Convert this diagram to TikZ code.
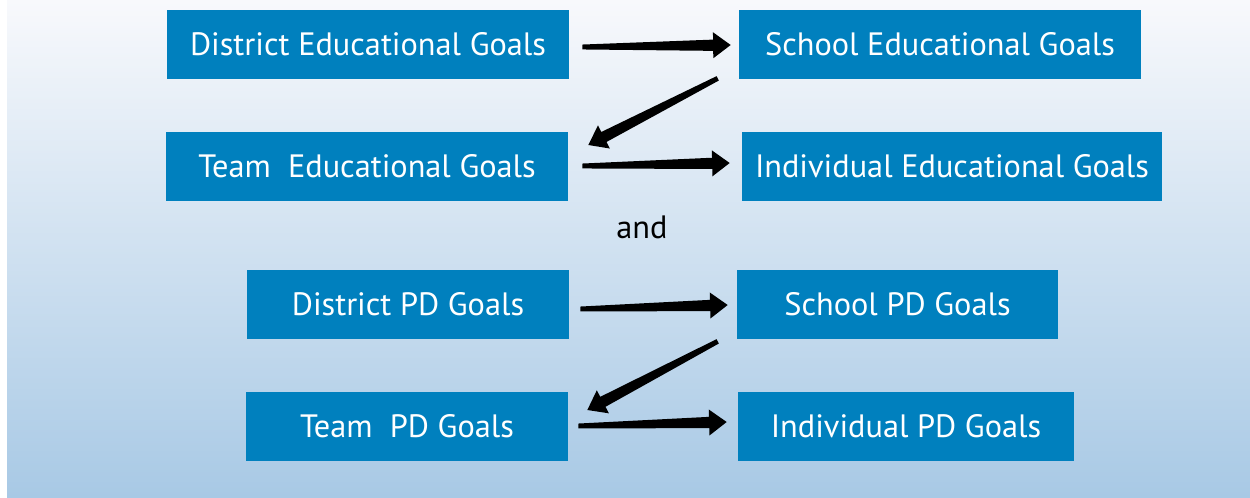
\documentclass[tikz,border=0pt]{standalone}
\usepackage{fontspec}
\setmainfont{PT Sans}
\usetikzlibrary{calc}
\definecolor{goalblue}{RGB}{0,128,190}
\definecolor{bgtop}{RGB}{248,249,252}
\definecolor{bgmid}{RGB}{214,228,242}
\definecolor{bgbot}{RGB}{168,201,229}
% tapered arrow from #1 (tail) to #2 (tip)
\newcommand\fatarrow[2]{%
\fill ($(#1)!1.4pt!90:(#2)$) -- ($(#2)!10pt!(#1)!3.2pt!90:(#2)$) -- ($(#2)!10pt!(#1)!7.4pt!90:(#2)$) -- (#2)
 -- ($(#2)!10pt!(#1)!7.4pt!-90:(#2)$) -- ($(#2)!10pt!(#1)!3.2pt!-90:(#2)$) -- ($(#1)!1.4pt!-90:(#2)$) -- cycle;}

\begin{document}
\begin{tikzpicture}
[
x=0.02cm,y=-0.02cm,
goal/.style={fill=goalblue,text=white,inner sep=0pt,minimum height=1.38cm,font=\fontsize{18.4}{20}\selectfont},
]
\useasboundingbox (0,0) rectangle (1250,497);
\shade[top color=bgtop,middle color=bgmid,bottom color=bgbot] (7,0) rectangle (1250,497);

%Place the nodes
\node[goal,minimum width=8.04cm] (dedu) at (368,44.5) {District Educational Goals};
\node[goal,minimum width=8.04cm] (sedu) at (940,44.5) {School Educational Goals};
\node[goal,minimum width=8.04cm] (tedu) at (367,166.5) {Team~ Educational Goals};
\node[goal,minimum width=8.4cm] (iedu) at (952,166.5) {Individual Educational Goals};
\node[font=\fontsize{18.4}{20}\selectfont] (and) at (642,227) {and};
\node[goal,minimum width=6.44cm] (dpd) at (408,304.5) {District PD Goals};
\node[goal,minimum width=6.42cm] (spd) at (897.5,304.5) {School PD Goals};
\node[goal,minimum width=6.44cm] (tpd) at (407,426.5) {Team~ PD Goals};
\node[goal,minimum width=6.72cm] (ipd) at (906,426.5) {Individual PD Goals};

%Arrow ends
\coordinate (a1) at ($(dedu.east)+(13,2.5)$);
\coordinate (b1) at ($(sedu.west)+(-8,0.5)$);
\coordinate (a2) at ($(sedu.south west)+(-21,-1)$);
\coordinate (b2) at ($(tedu.east)+(20,-21.5)$);
\coordinate (a3) at ($(tedu.east)+(14,-0.5)$);
\coordinate (b3) at ($(iedu.west)+(-12,-3.5)$);
\coordinate (a4) at ($(dpd.east)+(11,4.5)$);
\coordinate (b4) at ($(spd.west)+(-9,0.5)$);
\coordinate (a5) at ($(spd.south west)+(-19,2)$);
\coordinate (b5) at ($(tpd.east)+(19,-16.5)$);
\coordinate (a6) at ($(tpd.east)+(10,-0.5)$);
\coordinate (b6) at ($(ipd.west)+(-11,-4.5)$);

%Draw the connections
\fatarrow{a1}{b1}
\fatarrow{a2}{b2}
\fatarrow{a3}{b3}
\fatarrow{a4}{b4}
\fatarrow{a5}{b5}
\fatarrow{a6}{b6}
\end{tikzpicture}
\end{document}
